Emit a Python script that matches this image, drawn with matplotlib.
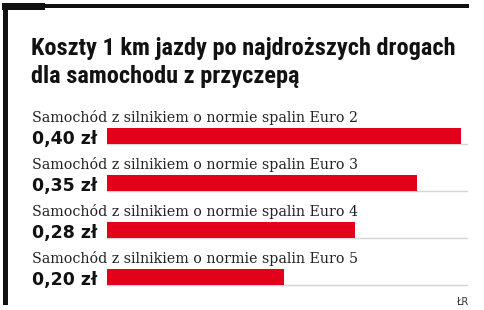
import matplotlib
matplotlib.use("Agg")
import matplotlib.pyplot as plt
from matplotlib.patches import Rectangle
import matplotlib.transforms as mtransforms
from matplotlib import font_manager

title = "Koszty 1 km jazdy po najdroższych drogach\ndla samochodu z przyczepą"
categories = [
    "Samochód z silnikiem o normie spalin Euro 2",
    "Samochód z silnikiem o normie spalin Euro 3",
    "Samochód z silnikiem o normie spalin Euro 4",
    "Samochód z silnikiem o normie spalin Euro 5",
]
values = [0.40, 0.35, 0.28, 0.20]
source = "ŁR"

W, H = 485, 310
fig = plt.figure(figsize=(W / 100, H / 100), dpi=100)
fig.patch.set_facecolor("white")

def fx(px):
    return px / W

def fy(py):
    return 1 - py / H

available = {f.name for f in font_manager.fontManager.ttflist}
title_family = [f for f in ["Roboto Condensed", "Liberation Sans Narrow", "DejaVu Sans Condensed", "Liberation Sans"] if f in available][:1] + ["DejaVu Sans"]

# frame decorations
fig.add_artist(Rectangle((fx(2), fy(10)), fx(43), 7 / H, transform=fig.transFigure, color="#111111", lw=0))
fig.add_artist(Rectangle((fx(2), fy(8)), fx(467), 4 / H, transform=fig.transFigure, color="#111111", lw=0))
fig.add_artist(Rectangle((fx(3.5), fy(305)), fx(4.5), 302 / H, transform=fig.transFigure, color="#111111", lw=0))

# title (two lines)
for i, line in enumerate(title.split("\n")):
    fig.text(fx(31), fy(55 + 28.5 * i), line, ha="left", va="baseline", fontsize=17.5,
             fontweight="bold", family=title_family, color="#111111")

# axes for bars
ax_top, ax_bot = 112.5, 300.5
ax = fig.add_axes([fx(107), fy(ax_bot), fx(468 - 107), (ax_bot - ax_top) / H])
ax.set_xlim(0, 0.408)
ax.set_ylim(len(values) - 0.5, -0.5)
ax.axis("off")

bh = 0.34
ys = list(range(len(values)))
ax.barh(ys, values, height=bh, color="#e2001a", zorder=2)
btr = mtransforms.blended_transform_factory(ax.transAxes, ax.transData)
for y in ys:
    ax.plot([0, 1], [y + bh / 2 + 0.01] * 2, color="#d6d6d6", lw=1.0,
            transform=btr, zorder=1)

tr = mtransforms.blended_transform_factory(fig.transFigure, ax.transData)
for y, cat, v in zip(ys, categories, values):
    ax.text(fx(32), y - 0.29, cat, transform=tr, ha="left", va="baseline",
            fontsize=10.3, family=["DejaVu Serif"], color="#222222")
    ax.text(fx(32), y + bh / 2, f"{v:.2f}".replace(".", ",") + " zł", transform=tr,
            ha="left", va="baseline", fontsize=12.5, fontweight="bold",
            family=["DejaVu Sans"], color="#111111")

fig.text(fx(468), fy(305), source, ha="right", va="baseline", fontsize=7,
         family=["DejaVu Sans"], color="#333333")

fig.savefig("out.png", dpi=100, facecolor="white")
